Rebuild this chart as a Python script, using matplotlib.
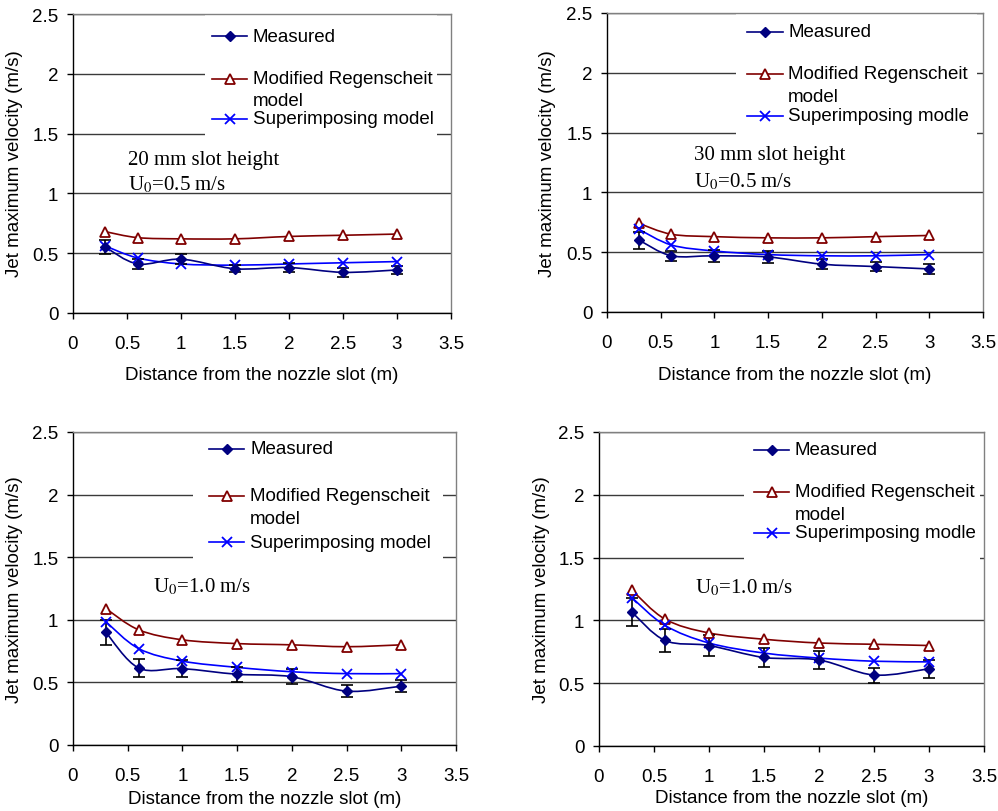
import numpy as np
import matplotlib
matplotlib.use("Agg")
import matplotlib.pyplot as plt
from matplotlib.path import Path
from matplotlib.patches import PathPatch, Rectangle
from matplotlib.lines import Line2D

plt.rcParams['font.family'] = ['Liberation Sans', 'DejaVu Sans']
plt.rcParams['mathtext.fontset'] = 'stix'

# data
distance = [0.3, 0.6, 1.0, 1.5, 2.0, 2.5, 3.0]

measured_a = [0.55, 0.41, 0.45, 0.37, 0.38, 0.34, 0.36]
error_a = [0.06, 0.04, 0.04, 0.03, 0.04, 0.04, 0.03]
regen_a = [0.68, 0.63, 0.62, 0.62, 0.64, 0.65, 0.66]
superimp_a = [0.56, 0.46, 0.41, 0.40, 0.41, 0.42, 0.43]

measured_b = [0.60, 0.47, 0.47, 0.46, 0.40, 0.38, 0.36]
error_b = [0.07, 0.04, 0.05, 0.05, 0.04, 0.04, 0.04]
regen_b = [0.74, 0.65, 0.63, 0.62, 0.62, 0.63, 0.64]
superimp_b = [0.69, 0.56, 0.51, 0.48, 0.47, 0.47, 0.48]

measured_c = [0.90, 0.615, 0.61, 0.565, 0.545, 0.43, 0.47]
error_c = [0.10, 0.07, 0.07, 0.06, 0.06, 0.05, 0.05]
regen_c = [1.09, 0.92, 0.84, 0.81, 0.80, 0.785, 0.80]
superimp_c = [0.985, 0.77, 0.67, 0.62, 0.585, 0.57, 0.57]

measured_d = [1.065, 0.84, 0.80, 0.705, 0.685, 0.565, 0.615]
error_d = [0.11, 0.09, 0.08, 0.075, 0.07, 0.06, 0.07]
regen_d = [1.24, 1.01, 0.90, 0.85, 0.82, 0.81, 0.80]
superimp_d = [1.18, 0.96, 0.82, 0.74, 0.70, 0.675, 0.67]

xticks = [0, 0.5, 1, 1.5, 2, 2.5, 3, 3.5]
xtick_labels = ['0', '0.5', '1', '1.5', '2', '2.5', '3', '3.5']
yticks = [0, 0.5, 1, 1.5, 2, 2.5]
ytick_labels = ['0', '0.5', '1', '1.5', '2', '2.5']

label_measured = "Measured"
label_regen = ["Modified Regenscheit", "model"]
label_super = ["Superimposing model", "Superimposing modle",
               "Superimposing model", "Superimposing modle"]
notes = [["20 mm slot height", r"U$_0$=0.5 m/s"],
         ["30 mm slot height", r"U$_0$=0.5 m/s"],
         [r"U$_0$=1.0 m/s"],
         [r"U$_0$=1.0 m/s"]]

panels = [(measured_a, error_a, regen_a, superimp_a),
          (measured_b, error_b, regen_b, superimp_b),
          (measured_c, error_c, regen_c, superimp_c),
          (measured_d, error_d, regen_d, superimp_d)]

# layout, in pixels of the 998x812 picture: axes box (left, top, right, bottom)
W, H = 998, 812
axes_px = [(73, 15, 451, 314), (607, 14, 983, 313),
           (73, 433, 456, 746), (599, 433, 984, 747)]
# legend: box x0, x1, box bottom, handle x0, x1, text x, y of rows (meas, regen, model, super)
legend_px = [(205, 437, 138, 212, 247, 253, (37, 80, 102, 120)),
             (736, 977, 137, 747, 783, 788, (33, 75, 98, 117)),
             (193, 443, 561, 209, 244, 250, (450, 497, 519, 543)),
             (744, 980, 561, 754, 789, 795, (451, 493, 516, 534))]
notes_px = [(128, (161, 185)), (694, (156, 182)), (153, (587,)), (695, (588,))]
ylabel_px = [(15, 164), (547, 164), (15, 590), (542, 590)]
xlabel_px = [(262, 376), (795, 375), (265, 800), (792, 799)]

NAVY = '#000080'
DARKRED = '#800000'
BLUE = '#0000FF'
FS = 13.5


def smooth_path(x, y):
    # Excel-style smoothed line: cubic Bezier through the points
    pts = np.column_stack([x, y]).astype(float)
    verts = [pts[0]]
    codes = [Path.MOVETO]
    n = len(pts)
    for i in range(n - 1):
        p0 = pts[i - 1] if i > 0 else pts[i]
        p1, p2 = pts[i], pts[i + 1]
        p3 = pts[i + 2] if i + 2 < n else pts[i + 1]
        verts += [p1 + (p2 - p0) / 6.0, p2 - (p3 - p1) / 6.0, p2]
        codes += [Path.CURVE4] * 3
    return Path(verts, codes)


def fx(px):
    return px / W


def fy(py):
    return 1 - py / H


fig = plt.figure(figsize=(W / 100, H / 100), dpi=100)

for k, (meas, err, regen, sup) in enumerate(panels):
    l, t, r, b = axes_px[k]
    ax = fig.add_axes([fx(l), fy(b), (r - l) / W, (b - t) / H])
    ax.set_xlim(0, 3.5)
    ax.set_ylim(0, 2.5)
    ax.set_xticks(xticks)
    ax.set_xticklabels(xtick_labels, fontsize=FS)
    ax.set_yticks(yticks)
    ax.set_yticklabels(ytick_labels, fontsize=FS)
    ax.tick_params(direction='out', length=4.5, width=1, pad=6, colors='black')
    ax.tick_params(axis='x', pad=11)
    for side in ['top', 'right']:
        ax.spines[side].set_color('#808080')
    for side in ['left', 'bottom']:
        ax.spines[side].set_color('black')
    for sp in ax.spines.values():
        sp.set_linewidth(1.0)
    ax.grid(axis='y', color='#3a3a3a', linewidth=1.0, zorder=0.5)
    ax.set_axisbelow(True)

    # white legend area covering the gridlines
    bx0, bx1, bby, hx0, hx1, tx, rows = legend_px[k]

    def ax_x(px):
        return (px - l) / (r - l)

    def ax_y(py):
        return (b - py) / (b - t)

    ax.add_patch(Rectangle((ax_x(bx0), ax_y(bby)), ax_x(bx1) - ax_x(bx0),
                           0.995 - ax_y(bby), transform=ax.transAxes,
                           facecolor='white', edgecolor='none', zorder=1.5))

    # series
    ax.add_patch(PathPatch(smooth_path(distance, regen), facecolor='none',
                           edgecolor=DARKRED, linewidth=1.2, zorder=3))
    ax.add_patch(PathPatch(smooth_path(distance, sup), facecolor='none',
                           edgecolor=BLUE, linewidth=1.2, zorder=3))
    ax.add_patch(PathPatch(smooth_path(distance, meas), facecolor='none',
                           edgecolor=NAVY, linewidth=1.2, zorder=3))
    ax.errorbar(distance, meas, yerr=err, fmt='none', ecolor='black',
                elinewidth=1.2, capsize=4, capthick=1.2, zorder=3.5)
    ax.plot(distance, regen, linestyle='none', marker='^', markersize=7,
            markerfacecolor='white', markeredgecolor=DARKRED,
            markeredgewidth=1.3, zorder=4)
    ax.plot(distance, sup, linestyle='none', marker='x', markersize=7,
            markeredgecolor=BLUE, markeredgewidth=1.3, zorder=4)
    ax.plot(distance, meas, linestyle='none', marker='D', markersize=5.5,
            color=NAVY, zorder=4.5)

    # legend
    hxa, hxb, txa = ax_x(hx0), ax_x(hx1), ax_x(tx)
    y_meas, y_reg, y_model, y_sup = [ax_y(v) for v in rows]
    entries = [(y_meas, NAVY, dict(marker='D', markersize=5.5)),
               (y_reg, DARKRED, dict(marker='^', markersize=7,
                                     markerfacecolor='white', markeredgewidth=1.3)),
               (y_sup, BLUE, dict(marker='x', markersize=7, markeredgewidth=1.3))]
    for yy, col, style in entries:
        ax.add_line(Line2D([hxa, hxb], [yy, yy], transform=ax.transAxes,
                           linewidth=1.2, color=col, zorder=5))
        ax.add_line(Line2D([(hxa + hxb) / 2], [yy], transform=ax.transAxes,
                           linestyle='none', color=col, zorder=5, **style))
    ax.text(txa, y_meas, label_measured, transform=ax.transAxes, fontsize=FS,
            va='center', ha='left', zorder=5)
    ax.text(txa, y_reg, label_regen[0], transform=ax.transAxes, fontsize=FS,
            va='center', ha='left', zorder=5)
    ax.text(txa, y_model, label_regen[1], transform=ax.transAxes, fontsize=FS,
            va='center', ha='left', zorder=5)
    ax.text(txa, y_sup, label_super[k], transform=ax.transAxes, fontsize=FS,
            va='center', ha='left', zorder=5)

    # panel notes in serif
    nx, nys = notes_px[k]
    for line, ny in zip(notes[k], nys):
        ax.text(ax_x(nx), ax_y(ny), line, transform=ax.transAxes, fontsize=15,
                family=['Liberation Serif', 'DejaVu Serif'], va='center',
                ha='left', zorder=5)

    # axis titles
    yx, yy_ = ylabel_px[k]
    fig.text(fx(yx), fy(yy_), "Jet maximum velocity (m/s)", rotation=90,
             ha='center', va='center', fontsize=FS)
    xx, xy = xlabel_px[k]
    fig.text(fx(xx), fy(xy), "Distance from the nozzle slot (m)",
             ha='center', va='center', fontsize=FS)

fig.savefig("out.png", dpi=100)
